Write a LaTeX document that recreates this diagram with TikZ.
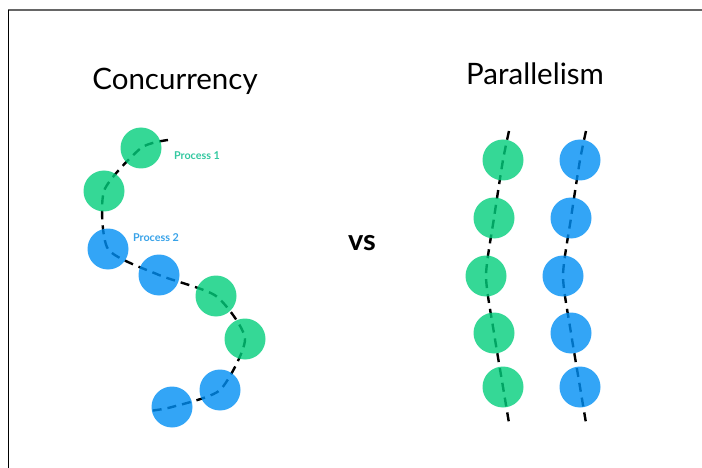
\documentclass[tikz,border=0pt]{standalone}
\usepackage{fontspec}
\setmainfont{Lato}
\usepackage{xcolor}
\usepackage{tikz}
\usetikzlibrary{backgrounds}
\definecolor{procgreen}{RGB}{2,206,124}
\definecolor{procblue}{RGB}{0,143,244}
\definecolor{labgreen}{RGB}{52,200,160}
\definecolor{labblue}{RGB}{56,162,232}
\tikzset{
  proc/.style={circle, minimum size=41pt, inner sep=0pt, fill opacity=0.8},
  greenproc/.style={proc, fill=procgreen},
  blueproc/.style={proc, fill=procblue},
  thread/.style={line width=2.4pt, dash pattern=on 9pt off 6pt},
  heading/.style={anchor=base, font=\fontsize{29.5}{32}\selectfont},
  tag/.style={font=\fontsize{10.8}{12}\selectfont\bfseries}
}
\begin{document}
\begin{tikzpicture}[x=1pt, y=-1pt, line cap=butt]
  \useasboundingbox (0,0) rectangle (702,468);
  % frame
  \draw[line width=1.6pt, gray!80!black] (8,10) -- (702,10);
  \draw[line width=1pt] (8,10) -- (8,468);
  % concurrency
  \coordinate (cstart) at (168,140);
  \coordinate (cend) at (149,411);
  \node[greenproc] (g1) at (141,148) {};
  \node[greenproc] (g2) at (104,191) {};
  \node[blueproc] (b1) at (108,249) {};
  \node[blueproc] (b2) at (159,275) {};
  \node[greenproc] (g3) at (216,296) {};
  \node[greenproc] (g4) at (245,339) {};
  \node[blueproc] (b3) at (220,390) {};
  \node[blueproc] (b4) at (172,407) {};
  \begin{scope}[on background layer]
    \draw[thread] plot[smooth, tension=0.4] coordinates
      {(cstart) (g1) (g2) (b1) (b2) (g3) (g4) (b3) (b4) (cend)};
  \end{scope}
  \node[tag, text=labgreen] (p1) at (197,156) {Process 1};
  \node[tag, text=labblue] (p2) at (156,238) {Process 2};
  % parallelism
  \foreach \c/\x/\s in {l/503/greenproc, r/580/blueproc} {
    \coordinate (\c top) at (\x+6,131);
    \node[\s] (\c a) at (\x,160) {};
    \node[\s] (\c b) at (\x-9,218) {};
    \node[\s] (\c c) at (\x-17,276) {};
    \node[\s] (\c d) at (\x-9,333) {};
    \node[\s] (\c e) at (\x,387) {};
    \coordinate (\c bot) at (\x+6,423);
    \begin{scope}[on background layer]
      \draw[thread] plot[smooth, tension=0.4] coordinates
        {(\c top) (\c a) (\c b) (\c c) (\c d) (\c e) (\c bot)};
    \end{scope}
  }
  % titles
  \node[heading] (conc) at (175,90) {Concurrency};
  \node[heading] (para) at (535,85) {Parallelism};
  \node[anchor=base, font=\fontsize{29}{31}\selectfont\bfseries] (vs) at (362,250) {vs};
\end{tikzpicture}
\end{document}
